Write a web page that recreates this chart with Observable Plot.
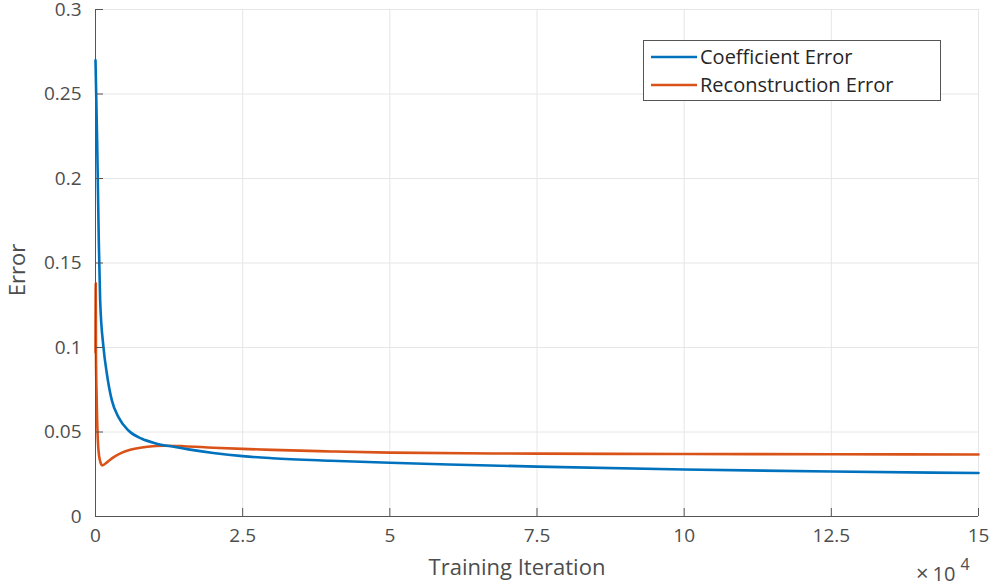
<!DOCTYPE html>
<html>
<head>
<meta charset="utf-8">
<script src="https://cdn.jsdelivr.net/npm/d3@7"></script>
<script src="https://cdn.jsdelivr.net/npm/@observablehq/plot@0.6"></script>
<style>
  html, body { margin: 0; padding: 0; background: #fff; }
  #chart { width: 990px; height: 588px; }
</style>
</head>
<body>
<div id="chart"></div>
<script>
// x in units of 10^4 training iterations
const coefX = [0, 0.028, 0.056, 0.079, 0.136, 0.193, 0.278, 0.39, 0.56, 0.787, 1.01, 1.35, 1.58, 2.0, 2.5, 3, 4, 5, 6, 7.5, 10, 12.5, 15];
const coefY = [0.270, 0.222, 0.163, 0.128, 0.100, 0.0845, 0.0687, 0.0588, 0.0509, 0.0460, 0.0434, 0.0411, 0.0397, 0.0376, 0.0357, 0.0345, 0.0330, 0.0318, 0.0308, 0.0295, 0.0278, 0.0266, 0.0257];
const reconX = [0, 0.004, 0.008, 0.02, 0.04, 0.07, 0.114, 0.2, 0.31, 0.45, 0.59, 0.88, 1.16, 1.5, 2.0, 2.5, 3, 4, 5, 7.5, 10, 12.5, 15];
const reconY = [0.097, 0.138, 0.096, 0.070, 0.045, 0.034, 0.0302, 0.0322, 0.0351, 0.0378, 0.0395, 0.0413, 0.0419, 0.0416, 0.0407, 0.0400, 0.0394, 0.0385, 0.0378, 0.0372, 0.0370, 0.0368, 0.0367];
const xTicks = [0, 2.5, 5, 7.5, 10, 12.5, 15];
const xTickLabels = ["0", "2.5", "5", "7.5", "10", "12.5", "15"];
const yTicks = [0, 0.05, 0.1, 0.15, 0.2, 0.25, 0.3];
const yTickLabels = ["0", "0.05", "0.1", "0.15", "0.2", "0.25", "0.3"];
const seriesNames = ["Coefficient Error", "Reconstruction Error"];
const seriesColors = ["#0072BD", "#D95319"];

const coef = coefX.map((x, i) => ({x, y: coefY[i]}));
const recon = reconX.map((x, i) => ({x, y: reconY[i]}));

const W = 990, H = 588;
const mL = 95, mR = 12, mT = 9, mB = 72;
const tickLen = 8;
const xPerPx = 15 / (W - mL - mR);
const yPerPx = 0.3 / (H - mT - mB);
const font = "'Open Sans', 'Noto Sans', sans-serif";
const txt = "#4d4d4d";

const plot = Plot.plot({
  width: W, height: H,
  marginLeft: mL, marginRight: mR, marginTop: mT, marginBottom: mB,
  style: {fontFamily: font, background: "#fff", overflow: "visible"},
  x: {domain: [0, 15]},
  y: {domain: [0, 0.3]},
  marks: [
    // grid
    Plot.ruleX(xTicks, {stroke: "#e6e6e6", strokeWidth: 1, strokeOpacity: 1}),
    Plot.ruleY(yTicks, {stroke: "#e6e6e6", strokeWidth: 1, strokeOpacity: 1}),
    // data lines
    Plot.line(recon, {x: "x", y: "y", stroke: seriesColors[1], strokeWidth: 2.6, curve: "monotone-x"}),
    Plot.line(coef, {x: "x", y: "y", stroke: seriesColors[0], strokeWidth: 2.6, curve: "monotone-x"}),
    // axes lines
    Plot.ruleY([0], {stroke: "#555", strokeWidth: 1}),
    Plot.ruleX([0], {stroke: "#555", strokeWidth: 1}),
    // inward ticks
    Plot.ruleX(xTicks, {y1: 0, y2: tickLen * yPerPx, stroke: "#555"}),
    Plot.ruleY(yTicks, {x1: 0, x2: tickLen * xPerPx, stroke: "#555"}),
    Plot.axisX(xTicks, {tickSize: 0, tickPadding: 12, tickFormat: (d, i) => xTickLabels[i], fontSize: 19, color: txt, label: null}),
    Plot.axisY(yTicks, {tickSize: 0, tickPadding: 14, tickFormat: (d, i) => yTickLabels[i], fontSize: 19, color: txt, label: null})
  ]
});

const svg = d3.select(plot);

// axis titles
svg.append("text").attr("x", 517).attr("y", 575).attr("text-anchor", "middle")
  .attr("font-size", 22).attr("fill", txt).attr("font-family", font).text("Training Iteration");
svg.append("text").attr("transform", "translate(25,270) rotate(-90)").attr("text-anchor", "middle")
  .attr("font-size", 22).attr("fill", txt).attr("font-family", font).text("Error");
// exponent
const ex = svg.append("text").attr("x", 916).attr("y", 581).attr("text-anchor", "start")
  .attr("font-size", 20).attr("fill", txt).attr("font-family", font);
ex.append("tspan").attr("font-size", 22).text("\u00d7");
ex.append("tspan").attr("dx", 4).text("10");
ex.append("tspan").attr("dx", 5).attr("dy", -11).attr("font-size", 16).text("4");

// legend
const lg = svg.append("g");
lg.append("rect").attr("x", 643.5).attr("y", 40.5).attr("width", 297).attr("height", 60)
  .attr("fill", "#fff").attr("stroke", "#555").attr("stroke-width", 1);
seriesNames.forEach((name, i) => {
  const cy = 57 + i * 28;
  lg.append("line").attr("x1", 651).attr("x2", 697).attr("y1", cy).attr("y2", cy)
    .attr("stroke", seriesColors[i]).attr("stroke-width", 2.6);
  lg.append("text").attr("x", 700).attr("y", cy).attr("dy", "0.35em").attr("text-anchor", "start")
    .attr("font-size", 20).attr("fill", "#262626").attr("font-family", font).text(name);
});

document.getElementById("chart").appendChild(plot);
</script>
</body>
</html>
